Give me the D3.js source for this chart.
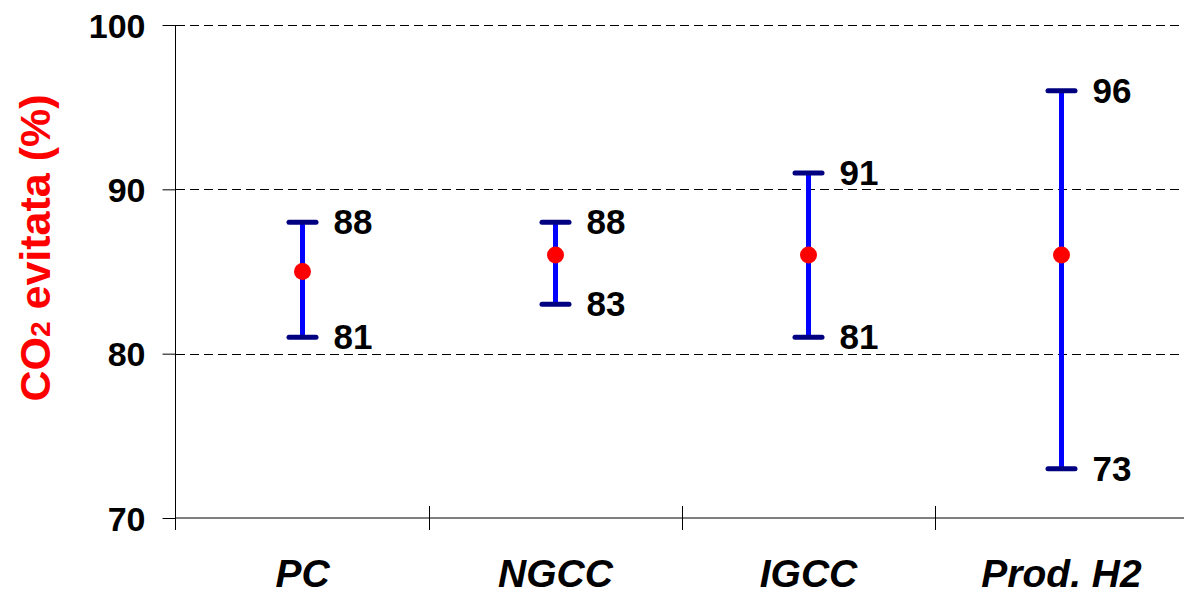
<!DOCTYPE html>
<html><head><meta charset="utf-8">
<script src="https://cdn.jsdelivr.net/npm/d3@7"></script>
<style>html,body{margin:0;padding:0;background:#fff;}svg{display:block;}</style>
</head><body>
<svg id="c" width="1184" height="595"></svg>
<script>
const categories = ["PC", "NGCC", "IGCC", "Prod. H2"];
const meanValues = [85, 86, 86, 86];
const lowValues = [81, 83, 81, 73];
const highValues = [88, 88, 91, 96];
const yTicks = [70, 80, 90, 100];
const gridValues = [80, 90, 100];

const svg = d3.select("#c");
const font = "Arial, 'Liberation Sans', sans-serif";
const x = d3.scaleBand().domain(categories).range([176, 1188]).padding(0);
const y = d3.scaleLinear().domain([70, 100]).range([518, 25]);

// gridlines
svg.append("g").selectAll("line").data(gridValues).join("line")
  .attr("x1", 176).attr("x2", 1188)
  .attr("y1", d => Math.round(y(d)) + 0.5).attr("y2", d => Math.round(y(d)) + 0.5)
  .attr("stroke", "#000").attr("stroke-width", 1).attr("stroke-dasharray", "9,5");

// y axis
const yAxis = svg.append("g").attr("transform", "translate(175.5,0)")
  .call(d3.axisLeft(y).tickValues(yTicks).tickSize(13).tickPadding(17).tickFormat(d3.format("d")));
yAxis.select(".domain").attr("d", `M0,${y(100)}V530`).attr("stroke", "#000");
yAxis.selectAll(".tick line").attr("stroke", "#000");
yAxis.selectAll(".tick text").attr("font-family", font).attr("font-weight", "bold")
  .attr("font-size", 34).attr("fill", "#000").attr("dy", "0.36em");

// x axis
const xAxis = svg.append("g").attr("transform", `translate(0,${y(70)})`);
xAxis.append("line").attr("x1", 176).attr("x2", 1188).attr("stroke", "#000");
const bounds = categories.slice(1).map(c => x(c));
xAxis.selectAll("line.t").data(bounds).join("line").attr("class", "t")
  .attr("x1", d => Math.round(d) + 0.5).attr("x2", d => Math.round(d) + 0.5)
  .attr("y1", -12).attr("y2", 12).attr("stroke", "#000");
svg.append("g").selectAll("text").data(categories).join("text")
  .attr("x", d => x(d) + x.bandwidth() / 2).attr("y", 587)
  .attr("text-anchor", "middle").attr("font-family", font).attr("font-weight", "bold")
  .attr("font-style", "italic").attr("font-size", 39).attr("fill", "#000").text(d => d);

// y title
const yt = svg.append("text").attr("transform", "translate(50,248) rotate(-90)")
  .attr("text-anchor", "middle").attr("font-family", font).attr("font-weight", "bold")
  .attr("font-size", 43).attr("fill", "#ff0000");
yt.append("tspan").text("CO");
yt.append("tspan").attr("font-size", 28).text("2");
yt.append("tspan").text(" evitata (%)");

// error bars
const data = categories.map((c, i) => ({c, m: meanValues[i], lo: lowValues[i], hi: highValues[i]}));
const g = svg.append("g");
const cx = d => x(d.c) + x.bandwidth() / 2;
g.selectAll("line.v").data(data).join("line").attr("class", "v")
  .attr("x1", cx).attr("x2", cx).attr("y1", d => y(d.lo)).attr("y2", d => y(d.hi))
  .attr("stroke", "#0000ff").attr("stroke-width", 5);
["lo", "hi"].forEach(k => {
  g.selectAll("line.c" + k).data(data).join("line").attr("class", "c" + k)
    .attr("x1", d => cx(d) - 13.5).attr("x2", d => cx(d) + 13.5)
    .attr("y1", d => y(d[k])).attr("y2", d => y(d[k]))
    .attr("stroke", "#000080").attr("stroke-width", 5).attr("stroke-linecap", "round");
  g.selectAll("text.l" + k).data(data).join("text").attr("class", "l" + k)
    .attr("x", d => cx(d) + 31).attr("y", d => y(d[k])).attr("dy", "0.34em")
    .attr("font-family", font).attr("font-weight", "bold").attr("font-size", 35)
    .attr("fill", "#000").text(d => d[k]);
});
g.selectAll("circle").data(data).join("circle")
  .attr("cx", cx).attr("cy", d => y(d.m)).attr("r", 8.5).attr("fill", "#ff0000");
</script>
</body></html>
